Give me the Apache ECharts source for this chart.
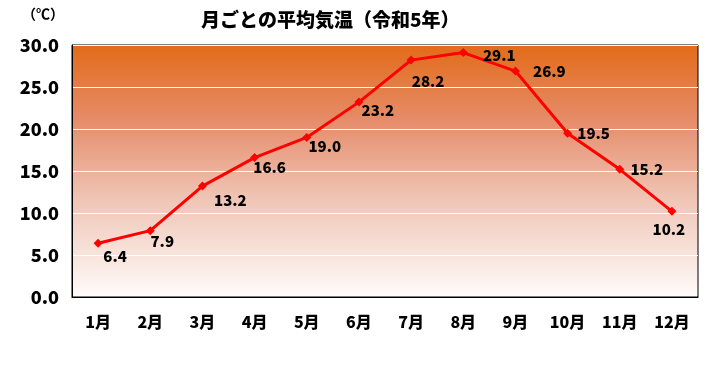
<!DOCTYPE html>
<html><head><meta charset="utf-8">
<script src="https://cdn.jsdelivr.net/npm/echarts@6/dist/echarts.min.js"></script>
<style>html,body{margin:0;padding:0;background:#fff}#c{width:709px;height:378px}</style>
</head><body><div id="c"></div>
<script>
const categories = ['1月','2月','3月','4月','5月','6月','7月','8月','9月','10月','11月','12月'];
const temps = [6.4, 7.9, 13.2, 16.6, 19.0, 23.2, 28.2, 29.1, 26.9, 19.5, 15.2, 10.2];
const yTicks = [0, 5, 10, 15, 20, 25, 30];

const labelOffsets = [[17,13],[12,11],[28,14],[15,10],[18,9],[19,8],[17,21],[36,3],[34,0],[26,0],[27,0],[-3,18]];
const FONT = '"Noto Sans CJK JP", sans-serif';
const chart = echarts.init(document.getElementById('c'));
chart.setOption({
  animation: false,
  title: { text: '月ごとの平均気温（令和5年）', left: 196, top: 5,
    textStyle: { fontFamily: FONT, fontWeight: 900, fontSize: 19, color: '#000' } },
  graphic: [{ type: 'text', left: 22, top: 7, style: { text: '（℃）', fontFamily: FONT, fontSize: 14, fontWeight: 'bold', fill: '#000' } }],
  grid: { left: 72, right: 11, top: 45, bottom: 81, show: true, borderColor: '#000', borderWidth: 1,
    backgroundColor: { type: 'linear', x: 0, y: 0, x2: 0, y2: 1, colorStops: [
      { offset: 0, color: '#E26B18' }, { offset: 0.3, color: '#E68C6A' },
      { offset: 0.6, color: '#EFC3B3' }, { offset: 1, color: '#FFFCFB' } ] } },
  xAxis: { type: 'category', data: categories, boundaryGap: true,
    axisLine: { lineStyle: { color: '#000', width: 1 } },
    axisTick: { inside: true, length: 5, lineStyle: { color: '#000' } },
    axisLabel: { fontFamily: FONT, fontWeight: 900, fontSize: 16, color: '#000', margin: 17 } },
  yAxis: { type: 'value', min: yTicks[0], max: yTicks[yTicks.length-1], interval: 5,
    axisLine: { show: true, lineStyle: { color: '#000' } }, axisTick: { show: false },
    splitLine: { lineStyle: { color: '#fff', width: 1 } },
    axisLabel: { fontFamily: FONT, fontWeight: 900, fontSize: 18, color: '#000', margin: 13,
      formatter: v => v.toFixed(1) } },
  series: [{ type: 'line', data: temps.map((v, i) => ({ value: v,
      label: { offset: labelOffsets[i] } })),
    symbol: 'diamond', symbolSize: 9,
    lineStyle: { color: '#FF0000', width: 3 }, itemStyle: { color: '#FF0000' },
    label: { show: true, position: 'inside', formatter: p => p.value.toFixed(1),
      fontFamily: FONT, fontWeight: 900, fontSize: 15, color: '#000' } }]
});
</script></body></html>
